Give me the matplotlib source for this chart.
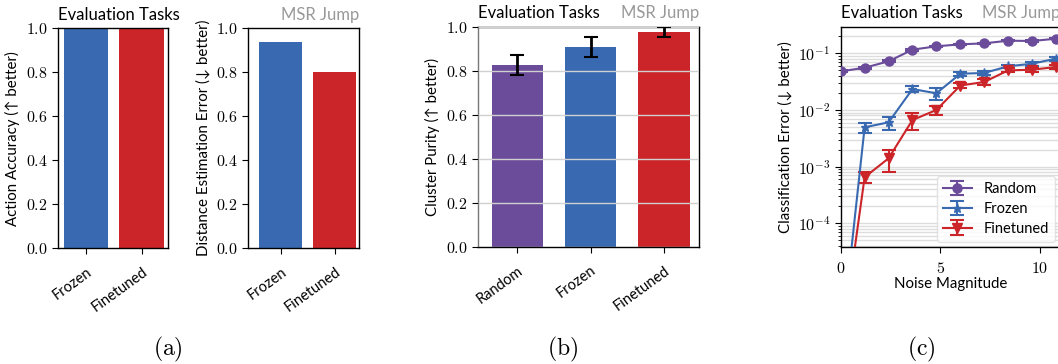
import numpy as np
import matplotlib
matplotlib.use("Agg")
import matplotlib.pyplot as plt
from matplotlib.ticker import FuncFormatter, LogLocator, NullFormatter

plt.rcParams['mathtext.fontset'] = 'cm'
plt.rcParams['font.family'] = ['Lato', 'DejaVu Sans']

# ---------------- data ----------------
a_methods = ["Frozen", "Finetuned"]
action_acc = [1.0, 1.0]
dist_err = [0.94, 0.80]

b_methods = ["Random", "Frozen", "Finetuned"]
purity = [0.826, 0.907, 0.976]
purity_err = [0.046, 0.044, 0.021]

noise = [0.0, 1.2, 2.4, 3.6, 4.8, 6.0, 7.2, 8.4, 9.6, 10.8]
err_random = [0.048, 0.0557, 0.0722, 0.116, 0.133, 0.144, 0.150, 0.167, 0.165, 0.181]
err_random_sd = [0.002, 0.002, 0.003, 0.004, 0.004, 0.004, 0.004, 0.005, 0.005, 0.005]
err_frozen = [6.4e-7, 0.00494, 0.00605, 0.0234, 0.0197, 0.0436, 0.045, 0.059, 0.0656, 0.0805]
err_frozen_sd = [0.0, 0.001, 0.0016, 0.0028, 0.005, 0.004, 0.003, 0.004, 0.005, 0.006]
err_finetuned = [6.0e-7, 0.00065, 0.0014, 0.00665, 0.0100, 0.0270, 0.0312, 0.050, 0.0514, 0.0573]
err_finetuned_sd = [0.0, 0.00014, 0.0006, 0.0023, 0.0017, 0.003, 0.004, 0.004, 0.004, 0.004]

BLUE = "#396AB1"
RED = "#CC2529"
PURPLE = "#6B4C9A"
GRAY_T = "#999999"

W, H = 1058, 364
fig = plt.figure(figsize=(W / 100, H / 100), dpi=100)


def rect(l, r, t, b):
    return [l / W, (H - b) / H, (r - l) / W, (b - t) / H]


lin_fmt = FuncFormatter(lambda v, p: f"${v:.1f}$")
TICK_FS = 11.5
XT_FS = 10.5
LAB_FS = 10.8
TITLE_FS = 12


def style_bar_ax(ax):
    ax.set_ylim(0, 1.0)
    ax.set_yticks([0, 0.2, 0.4, 0.6, 0.8, 1.0])
    ax.yaxis.set_major_formatter(lin_fmt)
    ax.tick_params(axis='y', labelsize=TICK_FS, direction='out', length=4)
    ax.tick_params(axis='x', labelsize=XT_FS, direction='out', length=4, pad=8)
    for s in ax.spines.values():
        s.set_linewidth(1.0)
        s.set_color('black')


# ---- panel (a) left ----
ax1 = fig.add_axes(rect(58.3, 168.3, 28.3, 248.3))
x = np.arange(len(a_methods))
ax1.bar(x, action_acc, width=0.8, color=[BLUE, RED])
ax1.set_xlim(-0.5, 1.48)
style_bar_ax(ax1)
ax1.set_xticks(x)
ax1.set_xticklabels(a_methods, rotation=36, ha='right', rotation_mode='anchor')
ax1.set_ylabel("Action Accuracy (\u2191 better)", fontsize=LAB_FS)
ax1.set_title("Evaluation Tasks", loc='left', fontsize=TITLE_FS, pad=6)

# ---- panel (a) right ----
ax2 = fig.add_axes(rect(248.3, 359.0, 28.3, 248.3))
ax2.bar(x, dist_err, width=0.8, color=[BLUE, RED])
ax2.set_xlim(-0.6, 1.45)
style_bar_ax(ax2)
ax2.set_xticks(x)
ax2.set_xticklabels(a_methods, rotation=36, ha='right', rotation_mode='anchor')
ax2.set_ylabel("Distance Estimation Error (\u2193 better)", fontsize=LAB_FS)
ax2.set_title("MSR Jump", loc='right', fontsize=TITLE_FS, color=GRAY_T, pad=6)

# ---- panel (b) ----
ax3 = fig.add_axes(rect(478.3, 699.3, 26.7, 246.7))
xb = np.arange(len(b_methods))
ax3.bar(xb, purity, width=0.7, color=[PURPLE, BLUE, RED], zorder=1)
ax3.errorbar(xb, purity, yerr=purity_err, fmt='none', ecolor='black',
             elinewidth=2, capsize=5, capthick=1.5, zorder=3)
ax3.set_xlim(-0.53, 2.48)
style_bar_ax(ax3)
ax3.spines['left'].set_color('#777777')
ax3.set_axisbelow(False)
ax3.yaxis.grid(True, color='#d0d0d0', linewidth=1.0, zorder=2)
ax3.set_xticks(xb)
ax3.set_xticklabels(b_methods, rotation=36, ha='right', rotation_mode='anchor')
ax3.set_ylabel("Cluster Purity (\u2191 better)", fontsize=LAB_FS)
ax3.set_title("Evaluation Tasks", loc='left', fontsize=TITLE_FS, pad=6)
ax3.set_title("MSR Jump", loc='right', fontsize=TITLE_FS, color=GRAY_T, pad=6)

# ---- panel (c) ----
ax4 = fig.add_axes(rect(840.7, 1060.0, 26.7, 246.7))
ax4.set_yscale('log')
series = [
    ("Random", err_random, err_random_sd, PURPLE, 'o'),
    ("Frozen", err_frozen, err_frozen_sd, BLUE, '*'),
    ("Finetuned", err_finetuned, err_finetuned_sd, RED, 'v'),
]
for name, vals, sd, col, mk in series:
    ax4.errorbar(noise, vals, yerr=sd, color=col, marker=mk, markersize=6.5,
                 linewidth=1.5, elinewidth=1.5, capsize=5, capthick=1.5,
                 label=name, zorder=3)
ax4.set_xlim(0, 11.0)
ax4.set_ylim(3.86e-5, 0.295)
ax4.set_xticks([0, 5, 10])
ax4.xaxis.set_major_formatter(FuncFormatter(lambda v, p: f"${int(v)}$"))
ax4.yaxis.set_major_locator(LogLocator(base=10, numticks=10))
ax4.yaxis.set_minor_locator(LogLocator(base=10, subs=np.arange(2, 10), numticks=100))
ax4.yaxis.set_major_formatter(FuncFormatter(lambda v, p: f"$10^{{{int(round(np.log10(v)))}}}$"))
ax4.yaxis.set_minor_formatter(NullFormatter())
ax4.yaxis.grid(True, which='both', color='#dddddd', linewidth=1.0, zorder=0)
ax4.set_axisbelow(True)
ax4.tick_params(axis='both', labelsize=TICK_FS, direction='out', length=4)
ax4.tick_params(axis='x', pad=6)
ax4.tick_params(axis='y', which='minor', length=2.5)
for s in ax4.spines.values():
    s.set_linewidth(1.0)
    s.set_color('black')
ax4.set_xlabel("Noise Magnitude", fontsize=LAB_FS, labelpad=1)
ax4.set_ylabel("Classification Error (\u2193 better)", fontsize=LAB_FS)
ax4.set_title("Evaluation Tasks", loc='left', fontsize=TITLE_FS, pad=6)
ax4.set_title("MSR Jump", loc='right', fontsize=TITLE_FS, color=GRAY_T, pad=6)
leg = ax4.legend(loc='lower right', fontsize=10.5, frameon=True, borderaxespad=0.35,
                 handlelength=2.0, labelspacing=0.4)
leg.get_frame().set_edgecolor('#dddddd')

# ---- captions ----
for lab, xp in [("a", 168), ("b", 563), ("c", 921)]:
    fig.text(xp / W, 1 - 349 / H, rf"$(\mathrm{{{lab}}})$", fontsize=17,
             ha='center', va='center')

fig.savefig("out.png", dpi=100)
